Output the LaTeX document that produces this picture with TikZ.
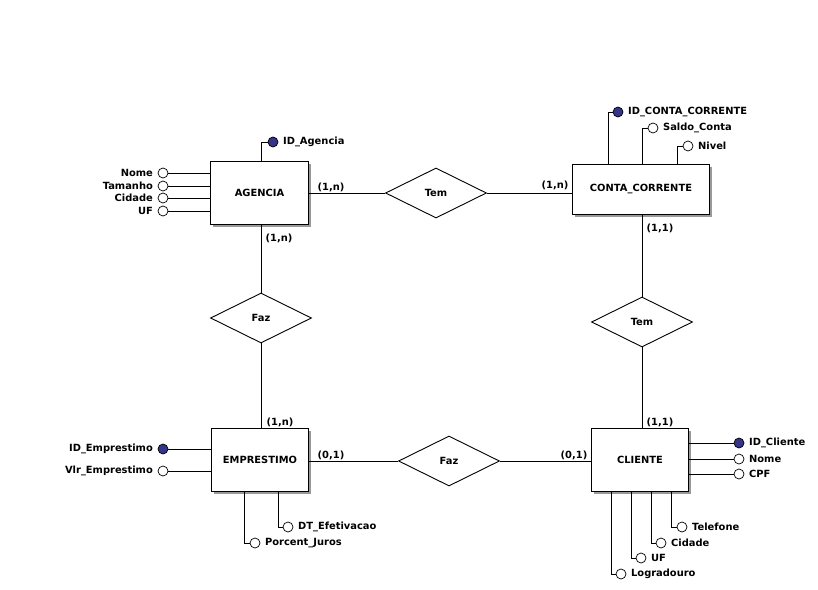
\documentclass[tikz,border=0pt]{standalone}
\usepackage{fontspec}
\setmainfont{DejaVu Sans}
\usetikzlibrary{shapes.geometric,calc,shadows}
\definecolor{keyblue}{RGB}{52,52,138}
\begin{document}
\begin{tikzpicture}[x=1pt,y=-1pt,line width=0.9pt,
  every node/.style={font=\fontsize{9.9}{11}\selectfont\bfseries},
  entity/.style={draw, fill=white, inner sep=0pt,
    drop shadow={shadow xshift=2.5pt, shadow yshift=-2.5pt, fill=black!40, opacity=1}},
  rel/.style={draw, diamond, inner sep=0pt, minimum width=101pt, minimum height=50pt},
  attr/.style={draw, circle, fill=white, minimum size=10pt, inner sep=0pt, line width=0.7pt},
  keyattr/.style={attr, fill=keyblue},
  card/.style={inner sep=1pt},
  lr/.style={label={[label distance=1pt]right:#1}},
  ll/.style={label={[label distance=1pt]left:#1}}
]
\useasboundingbox[fill=white] (0,0) rectangle (818,589);

% entities
\node[entity, minimum width=98pt, minimum height=63pt] (ag) at (259.5,192.5) {AGENCIA};
\node[entity, minimum width=137pt, minimum height=50pt] (cc) at (641,189) {CONTA\_CORRENTE};
\node[entity, minimum width=97pt, minimum height=63pt] (emp) at (260,459.5) {EMPRESTIMO};
\node[entity, minimum width=97pt, minimum height=63pt] (cl) at (640,459.5) {CLIENTE};

% relationships
\node[rel] (tem1) at (436,193) {Tem};
\node[rel] (faz1) at (261,318) {Faz};
\node[rel] (tem2) at (642,322) {Tem};
\node[rel] (faz2) at (449,461) {Faz};

% relationship links
\draw (ag.east |- tem1.west) -- (tem1.west);
\draw (tem1.east) -- (tem1.east -| cc.west);
\draw (ag.south -| faz1.north) -- (faz1.north);
\draw (faz1.south) -- (faz1.south |- emp.north);
\draw (cc.south -| tem2.north) -- (tem2.north);
\draw (tem2.south) -- (tem2.south |- cl.north);
\draw (emp.east |- faz2.west) -- (faz2.west);
\draw (faz2.east) -- (faz2.east -| cl.west);

% cardinalities
\node[card] (c1) at (331,187) {(1,n)};
\node[card] (c2) at (555,185) {(1,n)};
\node[card] (c3) at (279,238) {(1,n)};
\node[card] (c4) at (280,422) {(1,n)};
\node[card] (c5) at (331,455) {(0,1)};
\node[card] (c6) at (574,455) {(0,1)};
\node[card] (c7) at (660,422) {(1,1)};
\node[card] (c8) at (660,228) {(1,1)};

% AGENCIA attributes
\node[keyattr, lr=ID\_Agencia] (idag) at (273,142) {};
\node[attr, ll=Nome] (agnome) at (163,173) {};
\node[attr, ll=Tamanho] (agtam) at (163,186) {};
\node[attr, ll=Cidade] (agcid) at (163,198) {};
\node[attr, ll=UF] (aguf) at (163,211) {};
\draw (ag.north -| 261,0) |- (idag.west);
\foreach \a in {agnome,agtam,agcid,aguf}
  \draw (\a.east) -- (\a.east -| ag.west);

% CONTA_CORRENTE attributes
\node[keyattr, lr=ID\_CONTA\_CORRENTE] (idcc) at (618,112) {};
\node[attr, lr=Saldo\_Conta] (ccsaldo) at (653,128) {};
\node[attr, lr=Nivel] (ccnivel) at (688,146) {};
\draw ($(cc.north west)+(36,0)$) |- (idcc.west);
\draw ($(cc.north west)+(70,0)$) |- (ccsaldo.west);
\draw ($(cc.north west)+(105,0)$) |- (ccnivel.west);

% EMPRESTIMO attributes
\node[keyattr, ll=ID\_Emprestimo] (idemp) at (163,449) {};
\node[attr, ll=Vlr\_Emprestimo] (empvlr) at (163,471) {};
\node[attr, lr=DT\_Efetivacao] (empdt) at (288,527) {};
\node[attr, lr=Porcent\_Juros] (empjur) at (255,543) {};
\draw (idemp.east) -- (idemp.east -| emp.west);
\draw (empvlr.east) -- (empvlr.east -| emp.west);
\draw ($(emp.south west)+(67,0)$) |- (empdt.west);
\draw ($(emp.south west)+(33,0)$) |- (empjur.west);

% CLIENTE attributes
\node[keyattr, lr=ID\_Cliente] (idcl) at (739,443) {};
\node[attr, lr=Nome] (clnome) at (739,459) {};
\node[attr, lr=CPF] (clcpf) at (739,474) {};
\foreach \a in {idcl,clnome,clcpf}
  \draw (\a.west -| cl.east) -- (\a.west);
\node[attr, lr=Telefone] (cltel) at (682,527) {};
\node[attr, lr=Cidade] (clcid) at (661,543) {};
\node[attr, lr=UF] (cluf) at (641,558) {};
\node[attr, lr=Logradouro] (cllog) at (621,574) {};
\draw ($(cl.south west)+(80,0)$) |- (cltel.west);
\draw ($(cl.south west)+(60,0)$) |- (clcid.west);
\draw ($(cl.south west)+(40,0)$) |- (cluf.west);
\draw ($(cl.south west)+(20,0)$) |- (cllog.west);
\end{tikzpicture}
\end{document}
